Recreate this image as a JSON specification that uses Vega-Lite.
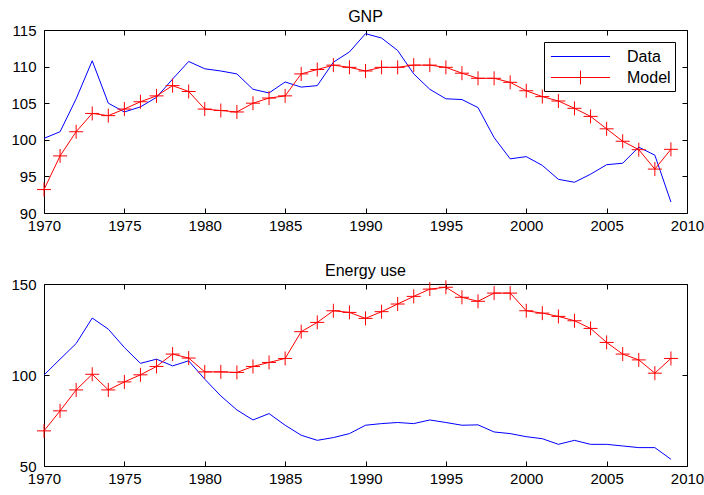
{
  "$schema": "https://vega.github.io/schema/vega-lite/v6.json",
  "background": "white",
  "padding": {"left": 10, "top": 9, "right": 5, "bottom": 5},
  "spacing": 30,
  "datasets": {
    "gnp": [
      {"year":1970,"value":100.2,"series":"Data"},{"year":1971,"value":101.1,"series":"Data"},{"year":1972,"value":105.6,"series":"Data"},{"year":1973,"value":110.8,"series":"Data"},{"year":1974,"value":105.0,"series":"Data"},{"year":1975,"value":103.8,"series":"Data"},{"year":1976,"value":104.5,"series":"Data"},{"year":1977,"value":105.8,"series":"Data"},{"year":1978,"value":108.3,"series":"Data"},{"year":1979,"value":110.7,"series":"Data"},{"year":1980,"value":109.7,"series":"Data"},{"year":1981,"value":109.4,"series":"Data"},{"year":1982,"value":109.0,"series":"Data"},{"year":1983,"value":106.9,"series":"Data"},{"year":1984,"value":106.4,"series":"Data"},{"year":1985,"value":107.9,"series":"Data"},{"year":1986,"value":107.2,"series":"Data"},{"year":1987,"value":107.4,"series":"Data"},{"year":1988,"value":110.6,"series":"Data"},{"year":1989,"value":112.0,"series":"Data"},{"year":1990,"value":114.5,"series":"Data"},{"year":1991,"value":113.9,"series":"Data"},{"year":1992,"value":112.2,"series":"Data"},{"year":1993,"value":109.0,"series":"Data"},{"year":1994,"value":106.9,"series":"Data"},{"year":1995,"value":105.6,"series":"Data"},{"year":1996,"value":105.5,"series":"Data"},{"year":1997,"value":104.4,"series":"Data"},{"year":1998,"value":100.3,"series":"Data"},{"year":1999,"value":97.4,"series":"Data"},{"year":2000,"value":97.7,"series":"Data"},{"year":2001,"value":96.5,"series":"Data"},{"year":2002,"value":94.6,"series":"Data"},{"year":2003,"value":94.2,"series":"Data"},{"year":2004,"value":95.3,"series":"Data"},{"year":2005,"value":96.6,"series":"Data"},{"year":2006,"value":96.8,"series":"Data"},{"year":2007,"value":99.0,"series":"Data"},{"year":2008,"value":97.9,"series":"Data"},{"year":2009,"value":91.5,"series":"Data"},
      {"year":1970,"value":93.2,"series":"Model"},{"year":1971,"value":97.8,"series":"Model"},{"year":1972,"value":101.1,"series":"Model"},{"year":1973,"value":103.6,"series":"Model"},{"year":1974,"value":103.3,"series":"Model"},{"year":1975,"value":104.2,"series":"Model"},{"year":1976,"value":105.2,"series":"Model"},{"year":1977,"value":106.0,"series":"Model"},{"year":1978,"value":107.4,"series":"Model"},{"year":1979,"value":106.6,"series":"Model"},{"year":1980,"value":104.2,"series":"Model"},{"year":1981,"value":104.0,"series":"Model"},{"year":1982,"value":103.8,"series":"Model"},{"year":1983,"value":105.0,"series":"Model"},{"year":1984,"value":105.7,"series":"Model"},{"year":1985,"value":106.0,"series":"Model"},{"year":1986,"value":109.0,"series":"Model"},{"year":1987,"value":109.6,"series":"Model"},{"year":1988,"value":110.2,"series":"Model"},{"year":1989,"value":109.9,"series":"Model"},{"year":1990,"value":109.4,"series":"Model"},{"year":1991,"value":109.9,"series":"Model"},{"year":1992,"value":109.9,"series":"Model"},{"year":1993,"value":110.2,"series":"Model"},{"year":1994,"value":110.2,"series":"Model"},{"year":1995,"value":109.9,"series":"Model"},{"year":1996,"value":109.1,"series":"Model"},{"year":1997,"value":108.4,"series":"Model"},{"year":1998,"value":108.4,"series":"Model"},{"year":1999,"value":107.85,"series":"Model"},{"year":2000,"value":106.7,"series":"Model"},{"year":2001,"value":105.9,"series":"Model"},{"year":2002,"value":105.3,"series":"Model"},{"year":2003,"value":104.3,"series":"Model"},{"year":2004,"value":103.2,"series":"Model"},{"year":2005,"value":101.5,"series":"Model"},{"year":2006,"value":99.8,"series":"Model"},{"year":2007,"value":98.65,"series":"Model"},{"year":2008,"value":96.0,"series":"Model"},{"year":2009,"value":98.7,"series":"Model"}
    ],
    "energy": [
      {"year":1970,"value":100.0,"series":"Data"},{"year":1971,"value":108.7,"series":"Data"},{"year":1972,"value":117.3,"series":"Data"},{"year":1973,"value":131.3,"series":"Data"},{"year":1974,"value":125.2,"series":"Data"},{"year":1975,"value":115.1,"series":"Data"},{"year":1976,"value":106.4,"series":"Data"},{"year":1977,"value":108.7,"series":"Data"},{"year":1978,"value":105.0,"series":"Data"},{"year":1979,"value":107.8,"series":"Data"},{"year":1980,"value":97.7,"series":"Data"},{"year":1981,"value":88.5,"series":"Data"},{"year":1982,"value":80.8,"series":"Data"},{"year":1983,"value":75.3,"series":"Data"},{"year":1984,"value":78.8,"series":"Data"},{"year":1985,"value":72.4,"series":"Data"},{"year":1986,"value":66.9,"series":"Data"},{"year":1987,"value":64.1,"series":"Data"},{"year":1988,"value":65.6,"series":"Data"},{"year":1989,"value":67.8,"series":"Data"},{"year":1990,"value":72.4,"series":"Data"},{"year":1991,"value":73.3,"series":"Data"},{"year":1992,"value":73.9,"series":"Data"},{"year":1993,"value":73.3,"series":"Data"},{"year":1994,"value":75.3,"series":"Data"},{"year":1995,"value":73.9,"series":"Data"},{"year":1996,"value":72.4,"series":"Data"},{"year":1997,"value":72.6,"series":"Data"},{"year":1998,"value":68.7,"series":"Data"},{"year":1999,"value":67.8,"series":"Data"},{"year":2000,"value":66.1,"series":"Data"},{"year":2001,"value":65.0,"series":"Data"},{"year":2002,"value":61.9,"series":"Data"},{"year":2003,"value":64.1,"series":"Data"},{"year":2004,"value":61.9,"series":"Data"},{"year":2005,"value":61.9,"series":"Data"},{"year":2006,"value":61.0,"series":"Data"},{"year":2007,"value":60.1,"series":"Data"},{"year":2008,"value":60.1,"series":"Data"},{"year":2009,"value":53.7,"series":"Data"},
      {"year":1970,"value":69.3,"series":"Model"},{"year":1971,"value":80.3,"series":"Model"},{"year":1972,"value":91.8,"series":"Model"},{"year":1973,"value":100.4,"series":"Model"},{"year":1974,"value":91.8,"series":"Model"},{"year":1975,"value":96.2,"series":"Model"},{"year":1976,"value":100.1,"series":"Model"},{"year":1977,"value":104.7,"series":"Model"},{"year":1978,"value":111.5,"series":"Model"},{"year":1979,"value":109.3,"series":"Model"},{"year":1980,"value":101.7,"series":"Model"},{"year":1981,"value":101.7,"series":"Model"},{"year":1982,"value":101.4,"series":"Model"},{"year":1983,"value":104.7,"series":"Model"},{"year":1984,"value":106.9,"series":"Model"},{"year":1985,"value":109.1,"series":"Model"},{"year":1986,"value":123.8,"series":"Model"},{"year":1987,"value":128.9,"series":"Model"},{"year":1988,"value":135.3,"series":"Model"},{"year":1989,"value":134.4,"series":"Model"},{"year":1990,"value":131.1,"series":"Model"},{"year":1991,"value":134.8,"series":"Model"},{"year":1992,"value":139.0,"series":"Model"},{"year":1993,"value":143.2,"series":"Model"},{"year":1994,"value":147.2,"series":"Model"},{"year":1995,"value":148.2,"series":"Model"},{"year":1996,"value":142.7,"series":"Model"},{"year":1997,"value":140.5,"series":"Model"},{"year":1998,"value":145.0,"series":"Model"},{"year":1999,"value":145.0,"series":"Model"},{"year":2000,"value":135.3,"series":"Model"},{"year":2001,"value":134.0,"series":"Model"},{"year":2002,"value":132.2,"series":"Model"},{"year":2003,"value":129.8,"series":"Model"},{"year":2004,"value":125.6,"series":"Model"},{"year":2005,"value":117.9,"series":"Model"},{"year":2006,"value":111.5,"series":"Model"},{"year":2007,"value":108.3,"series":"Model"},{"year":2008,"value":101.0,"series":"Model"},{"year":2009,"value":109.1,"series":"Model"}
    ]
  },
  "config": {
    "font": "'Liberation Sans', sans-serif",
    "view": {"stroke": null},
    "axis": {"domainColor": "black", "tickColor": "black", "labelColor": "black", "labelFontSize": 15, "grid": false, "tickSize": -5, "domainWidth": 1, "tickWidth": 1, "title": null, "labelFlush": false, "labelOverlap": false},
    "axisX": {"labelPadding": 10},
    "axisY": {"labelPadding": 13},
    "title": {"fontSize": 16, "fontWeight": "normal", "color": "black", "offset": -2},
    "legend": {"orient": "top-right", "offset": 12, "strokeColor": "black", "fillColor": "white", "padding": 4, "labelFontSize": 16, "labelColor": "black", "symbolType": "stroke", "symbolSize": 388, "symbolStrokeWidth": 1, "symbolOffset": 22, "labelOffset": 36, "rowPadding": 2, "cornerRadius": 0}
  },
  "resolve": {"scale": {"color": "independent"}, "legend": {"color": "independent"}},
  "vconcat": [
    {
      "width": 643, "height": 183,
      "title": "GNP",
      "data": {"name": "gnp"},
      "layer": [
        {
          "mark": {"type": "line", "strokeWidth": 1, "clip": true},
          "encoding": {
            "x": {"field": "year", "type": "quantitative", "scale": {"domain": [1970, 2010], "nice": false}, "axis": {"values": [1970,1975,1980,1985,1990,1995,2000,2005,2010], "format": "d", "orient": "bottom"}},
            "y": {"field": "value", "type": "quantitative", "scale": {"domain": [90, 115], "zero": false, "nice": false}, "axis": {"values": [90,95,100,105,110,115], "orient": "left"}},
            "color": {"field": "series", "type": "nominal", "scale": {"domain": ["Data", "Model"], "range": ["#0000ff", "#ff0000"]},
              "legend": {"title": null, "encode": {"symbols": {"update": {"shape": {"signal": "datum.value === 'Model' ? 'M-3,0H3M0,-0.7V0.7' : 'M-3,0H3'"}, "size": {"value": 388}}}}}}
          }
        },
        {
          "transform": [{"filter": "datum.series === 'Model'"}],
          "mark": {"type": "point", "shape": "M-1,0H1M0,-1V1", "size": 196, "filled": false, "strokeWidth": 1, "opacity": 1, "color": "#ff0000"},
          "encoding": {
            "x": {"field": "year", "type": "quantitative", "scale": {"domain": [1970, 2010], "nice": false}, "axis": {"values": [1970,1975,1980,1985,1990,1995,2000,2005,2010], "orient": "top", "labels": false}},
            "y": {"field": "value", "type": "quantitative", "scale": {"domain": [90, 115], "zero": false, "nice": false}, "axis": {"values": [90,95,100,105,110,115], "orient": "right", "labels": false}}
          }
        }
      ],
      "resolve": {"axis": {"x": "independent", "y": "independent"}}
    },
    {
      "width": 643, "height": 182,
      "title": "Energy use",
      "data": {"name": "energy"},
      "layer": [
        {
          "mark": {"type": "line", "strokeWidth": 1, "clip": true},
          "encoding": {
            "x": {"field": "year", "type": "quantitative", "scale": {"domain": [1970, 2010], "nice": false}, "axis": {"values": [1970,1975,1980,1985,1990,1995,2000,2005,2010], "format": "d", "orient": "bottom"}},
            "y": {"field": "value", "type": "quantitative", "scale": {"domain": [50, 150], "zero": false, "nice": false}, "axis": {"values": [50,100,150], "orient": "left"}},
            "color": {"field": "series", "type": "nominal", "scale": {"domain": ["Data", "Model"], "range": ["#0000ff", "#ff0000"]}, "legend": null}
          }
        },
        {
          "transform": [{"filter": "datum.series === 'Model'"}],
          "mark": {"type": "point", "shape": "M-1,0H1M0,-1V1", "size": 196, "filled": false, "strokeWidth": 1, "opacity": 1, "color": "#ff0000"},
          "encoding": {
            "x": {"field": "year", "type": "quantitative", "scale": {"domain": [1970, 2010], "nice": false}, "axis": {"values": [1970,1975,1980,1985,1990,1995,2000,2005,2010], "orient": "top", "labels": false}},
            "y": {"field": "value", "type": "quantitative", "scale": {"domain": [50, 150], "zero": false, "nice": false}, "axis": {"values": [50,100,150], "orient": "right", "labels": false}}
          }
        }
      ],
      "resolve": {"axis": {"x": "independent", "y": "independent"}}
    }
  ]
}
